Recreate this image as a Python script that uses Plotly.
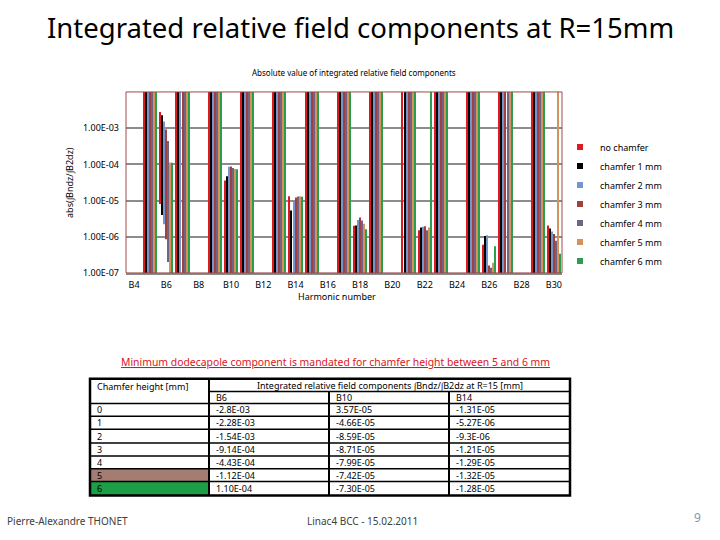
import plotly.graph_objects as go

# ---------------- data ----------------
harmonics = list(range(4, 31))                     # B4 ... B30
tick_harmonics = list(range(4, 31, 2))
tick_labels = [f"B{h}" for h in tick_harmonics]

series_names = ["no chamfer", "chamfer 1 mm", "chamfer 2 mm", "chamfer 3 mm",
                "chamfer 4 mm", "chamfer 5 mm", "chamfer 6 mm"]
series_colors = ["#E0191F", "#000000", "#7396D0", "#A0413F",
                 "#706484", "#D4935C", "#2A9D4F"]

# table (signed integrated relative components), one entry per chamfer height
chamfer_heights = ["0", "1", "2", "3", "4", "5", "6"]
table_b6 = ["-2.8E-03", "-2.28E-03", "-1.54E-03", "-9.14E-04", "-4.43E-04", "-1.12E-04", "1.10E-04"]
table_b10 = ["3.57E-05", "-4.66E-05", "-8.59E-05", "-8.71E-05", "-7.99E-05", "-7.42E-05", "-7.30E-05"]
table_b14 = ["-1.31E-05", "-5.27E-06", "-9.3E-06", "-1.21E-05", "-1.29E-05", "-1.32E-05", "-1.28E-05"]

# chart values (abs values), per chamfer height
b6_values = [abs(float(s)) for s in table_b6]
b10_values = [abs(float(s)) for s in table_b10]
b14_values = [abs(float(s)) for s in table_b14]
b18_values = [2.0e-6, 2.05e-6, 2.9e-6, 3.4e-6, 2.8e-6, 2.3e-6, 1.6e-6]
b22_values = [1.5e-6, 1.8e-6, 1.9e-6, 1.95e-6, 1.5e-6, 1.8e-6, 1e-2]
b26_values = [6.0e-7, 1.05e-6, 1.1e-6, 1.6e-7, 1.4e-7, 1.9e-7, 5.5e-7]
b30_values = [2.06e-6, 1.7e-6, 1.4e-6, 1.2e-6, 7.8e-7, 1e-2, 3.4e-7]
# odd harmonics run off the top of the log axis for every chamfer
odd_values = [1e-2, 1e-2, 1e-2, 1e-2, 1e-2, 1e-2, 1e-2]
# lower end of the B6 bars as drawn in the picture
b6_floor = [8e-6, 4e-6, 2.2e-6, 8.5e-7, 2e-7, 1e-7, 1e-7]
axis_floor = 1e-7

even_groups = {6: b6_values, 10: b10_values, 14: b14_values, 18: b18_values,
               22: b22_values, 26: b26_values, 30: b30_values}

# ---------------- helpers ----------------
W, H = 720, 540
def px(x):
    return x / W
def py(y):
    return 1 - y / H

fig = go.Figure()

for i, (name, color) in enumerate(zip(series_names, series_colors)):
    xs, tops, bases = [], [], []
    for h in harmonics:
        if h % 2 == 1:
            top = odd_values[i]
        elif h in even_groups:
            top = even_groups[h][i]
        else:
            continue
        base = b6_floor[i] if h == 6 else axis_floor
        xs.append(h)
        tops.append(top - base)
        bases.append(base)
    fig.add_trace(go.Bar(x=xs, y=tops, base=bases, name=name,
                         marker=dict(color=color, line=dict(width=0)),
                         legendgroup=name, showlegend=False))
    fig.add_trace(go.Scatter(x=[None], y=[None], mode="markers", name=name,
                             legendgroup=name,
                             marker=dict(symbol="square", size=6, color=color)))

fig.update_layout(
    width=W, height=H,
    margin=dict(l=0, r=0, t=0, b=0),
    paper_bgcolor="white", plot_bgcolor="white",
    barmode="group", bargap=0.12, bargroupgap=0.5,
    font=dict(family="Noto Sans", size=9, color="#000000"),
    showlegend=True,
    legend=dict(x=px(560), y=py(134), xanchor="left", yanchor="top",
                font=dict(size=9), itemwidth=30, tracegroupgap=0,
                bgcolor="rgba(0,0,0,0)"),
    xaxis=dict(domain=[px(126), px(562)], range=[3.5, 30.5],
               tickvals=tick_harmonics, ticktext=tick_labels,
               showgrid=False, showline=True, linecolor="#8C8C8C", linewidth=2,
               ticks="", ticklabelstandoff=2, tickfont=dict(size=9), zeroline=False),
    yaxis=dict(domain=[py(276), py(93)], type="log", range=[-7, -2],
               tickvals=[1e-7, 1e-6, 1e-5, 1e-4, 1e-3],
               ticktext=["1.00E-07", "1.00E-06", "1.00E-05", "1.00E-04", "1.00E-03"],
               showgrid=True, gridcolor="#8C8C8C", gridwidth=2,
               ticks="", ticklabelstandoff=6, tickfont=dict(size=9),
               showline=False, zeroline=False),
)

# plot-area frame
fig.add_shape(type="rect", xref="x domain", yref="y domain", x0=0, x1=1, y0=0, y1=1,
              line=dict(color="#9E4A4A", width=1), layer="above")

annotations = []
def note(x, y, text, size=9, color="#000000", xanchor="center", angle=0):
    annotations.append(dict(x=px(x), y=py(y), xref="paper", yref="paper", text=text,
                            showarrow=False, xanchor=xanchor, yanchor="middle",
                            textangle=angle,
                            font=dict(size=size, color=color, family="Noto Sans")))

note(360, 28, "Integrated relative field components at R=15mm", size=27.5)
note(354, 73, "Absolute value of integrated relative field components", size=8)
note(70, 185, "abs(∫Bndz/∫B2dz)", size=9, angle=-90)
note(337, 299.5, "Harmonic number", size=9)
note(335, 366, "<u>Minimum dodecapole component is mandated for chamfer height between 5 and 6 mm</u>",
     size=10.4, color="#D9141B")
note(5, 527, "Pierre-Alexandre THONET", size=10, color="#404040", xanchor="left")
note(362, 527, "Linac4 BCC - 15.02.2011", size=10, color="#404040")
note(697, 523, "9", size=12, color="#8497B0")

# ---------------- table ----------------
col_edges = [90, 209, 329, 449, 570]
row_edges = [383, 396, 408, 421, 434, 448, 461, 474, 487, 501]
cell_fills = {5: "#A57C72", 6: "#1C9E46"}

shapes = []
for r, color in cell_fills.items():
    shapes.append(dict(type="rect", xref="paper", yref="paper",
                       x0=px(col_edges[0]), x1=px(col_edges[1]),
                       y0=py(row_edges[r + 3]), y1=py(row_edges[r + 2]),
                       fillcolor=color, line=dict(width=0), layer="above"))

def hline(y, x0, x1, w=1.5):
    shapes.append(dict(type="line", xref="paper", yref="paper", x0=px(x0), x1=px(x1),
                       y0=py(y), y1=py(y), line=dict(color="black", width=w)))
def vline(x, y0, y1, w=1.5):
    shapes.append(dict(type="line", xref="paper", yref="paper", x0=px(x), x1=px(x),
                       y0=py(y0), y1=py(y1), line=dict(color="black", width=w)))

hline(row_edges[1], col_edges[1], col_edges[-1])
for y in row_edges[2:-1]:
    hline(y, col_edges[0], col_edges[-1])
vline(col_edges[1], row_edges[0], row_edges[-1], 2)
for x in col_edges[2:-1]:
    vline(x, row_edges[1], row_edges[-1], 2)
shapes.append(dict(type="rect", xref="paper", yref="paper",
                   x0=px(col_edges[0]), x1=px(col_edges[-1]),
                   y0=py(row_edges[-1]), y1=py(row_edges[0]),
                   line=dict(color="black", width=2.5)))

note(95, 391, "Chamfer height [mm]", size=9, xanchor="left")
note((col_edges[1] + col_edges[-1]) / 2, 389.5,
     "Integrated relative field components ∫Bndz/∫B2dz at R=15 [mm]", size=9)
for c, lab in enumerate(["B6", "B10", "B14"]):
    note(col_edges[c + 1] + 5, (row_edges[1] + row_edges[2]) / 2, lab, size=9, xanchor="left")
columns = [chamfer_heights, table_b6, table_b10, table_b14]
for r in range(len(chamfer_heights)):
    yc = (row_edges[r + 2] + row_edges[r + 3]) / 2
    for c, col in enumerate(columns):
        note(col_edges[c] + 5, yc, col[r], size=9, xanchor="left")

fig.update_layout(annotations=annotations, shapes=list(fig.layout.shapes) + shapes)

fig.write_html("out.html", config={"displayModeBar": False},
               post_script="document.body.style.margin='0';")
